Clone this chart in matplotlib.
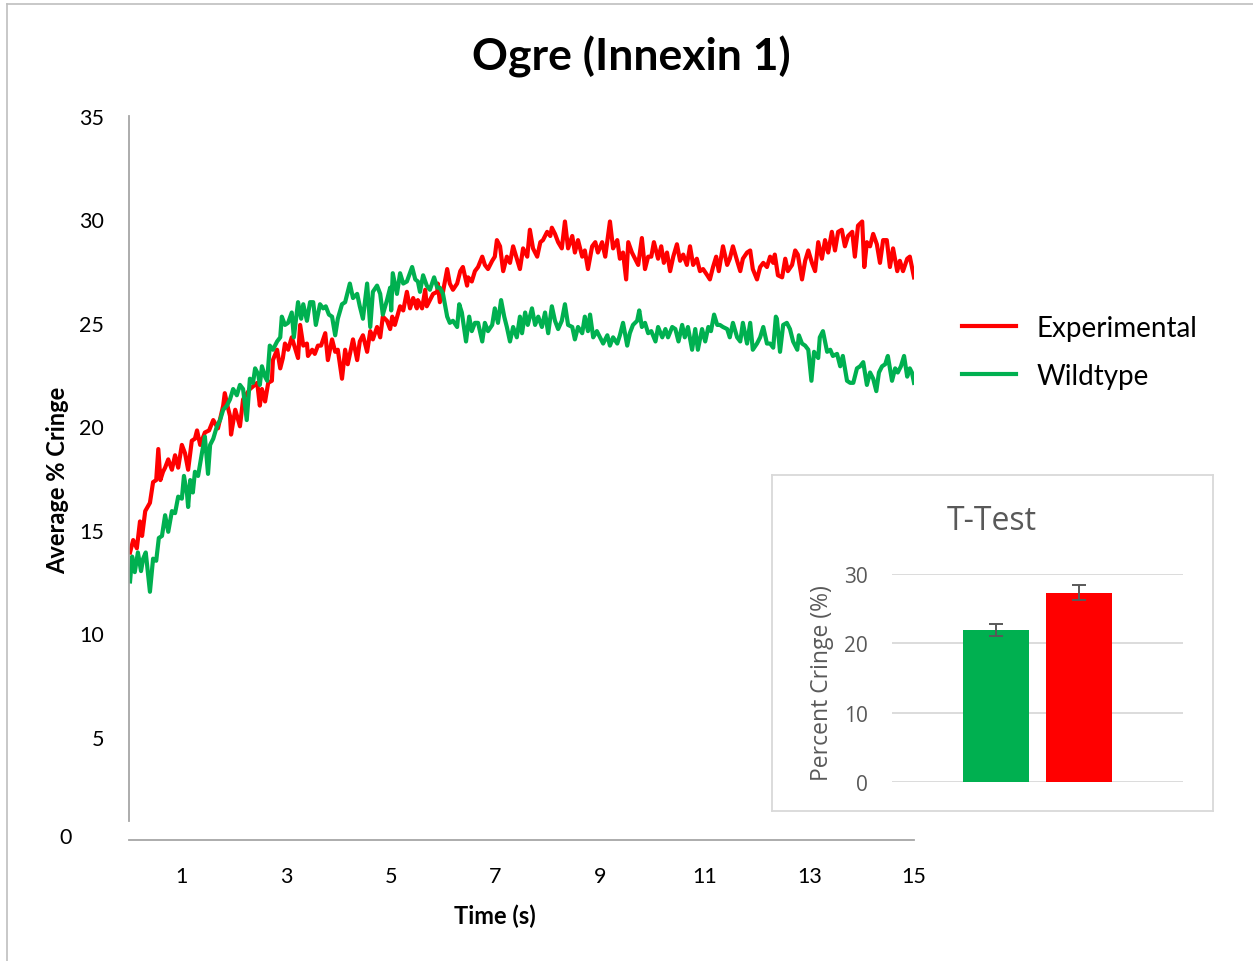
import matplotlib
matplotlib.use("Agg")
import matplotlib.pyplot as plt
from matplotlib.lines import Line2D

# ---------------- data ----------------
t_exp = [0.02,0.08,0.15,0.21,0.25,0.31,0.40,0.46,0.52,0.56,0.60,0.65,0.69,0.75,0.82,0.88,0.94,1.01,1.07,1.13,
         1.20,1.26,1.30,1.36,1.45,1.53,1.61,1.70,1.80,1.83,1.89,1.93,1.95,2.03,2.12,2.18,2.31,2.45,2.50,
         2.54,2.60,2.66,2.73,2.75,2.83,2.89,2.94,2.98,3.04,3.11,3.17,3.23,3.27,3.33,3.40,3.42,3.50,3.55,3.61,
         3.67,3.75,3.80,3.88,3.94,3.99,4.07,4.13,4.18,4.28,4.36,4.41,4.47,4.55,4.61,4.66,4.74,4.80,4.85,4.93,4.99,
         5.03,5.08,5.18,5.24,5.31,5.37,5.43,5.50,5.52,5.60,5.66,5.69,5.75,5.81,5.89,5.90,5.94,6.00,6.08,6.13,
         6.19,6.27,6.33,6.38,6.46,6.48,6.55,6.61,6.67,6.75,6.80,6.86,6.94,6.99,7.03,7.09,7.15,7.22,7.28,7.34,7.41,7.47,
         7.53,7.61,7.66,7.72,7.80,7.86,7.91,7.99,8.05,8.08,8.14,8.20,8.27,8.33,8.39,8.47,8.52,8.58,8.66,8.71,
         8.77,8.85,8.91,8.96,9.04,9.10,9.19,9.25,9.33,9.38,9.44,9.50,9.54,9.61,9.67,9.73,9.80,9.86,9.92,
         9.98,10.03,10.11,10.17,10.22,10.28,10.34,10.40,10.47,10.53,10.59,10.66,10.72,10.78,10.85,10.91,10.97,11.05,11.10,11.16,
         11.22,11.27,11.35,11.43,11.48,11.54,11.62,11.68,11.73,11.81,11.87,11.92,12.00,12.06,12.12,12.19,12.25,12.31,12.34,12.40,
         12.48,12.54,12.59,12.67,12.73,12.78,12.86,12.92,12.98,13.05,13.11,13.17,13.24,13.30,13.36,13.43,13.49,13.55,13.62,13.68,
         13.74,13.82,13.87,13.93,14.01,14.05,14.10,14.16,14.22,14.29,14.35,14.41,14.48,14.54,14.60,14.68,14.73,14.79,14.87,14.92,15.00]
v_exp = [13.9,14.5,14.1,15.4,14.7,15.9,16.3,17.3,17.4,18.9,17.4,17.8,18.0,18.4,17.9,18.6,18.0,19.1,18.7,17.9,
         19.3,19.4,19.8,19.1,19.7,19.8,20.3,19.9,21.0,21.6,20.9,20.5,19.6,20.8,20.0,21.3,21.8,22.1,21.0,
         21.8,21.2,22.1,22.2,23.2,23.7,22.8,23.3,24.0,23.7,24.3,23.8,23.3,24.9,23.9,24.0,23.4,23.7,23.5,23.9,
         23.9,24.5,23.2,24.2,23.6,23.7,22.3,23.7,23.0,24.2,23.2,24.1,24.4,23.6,24.6,24.2,24.8,24.3,25.3,25.1,24.7,
         25.3,24.9,25.8,25.6,26.5,25.7,26.2,25.7,26.1,25.7,26.6,25.8,26.1,26.4,26.5,26.9,26.0,26.5,27.6,26.9,
         26.6,26.9,27.5,27.7,26.8,27.2,27.0,27.5,27.7,28.2,27.8,27.6,28.0,28.2,29.0,28.7,27.5,28.2,27.9,28.7,28.1,27.6,
         28.6,28.2,29.5,28.6,28.2,28.9,29.0,29.4,29.2,29.6,29.3,28.9,28.6,29.9,28.6,29.2,28.4,29.0,28.2,28.5,
         27.6,28.7,28.9,28.4,28.9,28.2,29.9,28.6,29.0,28.1,28.4,27.1,28.9,28.4,28.1,27.8,29.1,27.6,28.2,
         28.2,28.9,28.1,28.7,27.9,28.4,27.5,28.2,28.8,28.0,28.3,27.8,28.7,27.8,28.1,27.5,27.6,27.3,27.1,27.7,
         28.2,27.5,28.7,27.8,28.1,28.7,28.0,27.5,28.1,28.4,28.5,27.6,27.1,27.7,27.9,27.7,28.2,27.9,28.3,27.3,
         27.2,28.1,27.5,27.8,28.5,28.3,27.1,28.0,28.5,27.9,27.5,28.9,28.1,29.0,28.4,29.4,28.5,29.4,29.5,28.7,
         29.2,29.4,28.2,29.7,29.9,27.7,28.9,28.7,29.3,28.8,27.9,29.0,29.0,27.7,28.6,27.5,28.0,27.5,28.1,28.2,27.2]

t_wt = [0.02,0.06,0.11,0.17,0.23,0.27,0.32,0.36,0.40,0.46,0.52,0.57,0.63,0.69,0.75,0.82,0.88,0.94,1.01,1.05,
        1.11,1.13,1.17,1.22,1.26,1.32,1.40,1.45,1.51,1.55,1.61,1.68,1.74,1.80,1.87,1.93,1.99,2.06,2.12,2.18,
        2.25,2.31,2.37,
        2.41,2.47,2.50,2.54,2.60,2.64,2.69,2.75,2.83,2.89,2.92,2.98,3.04,3.11,3.15,3.23,3.29,3.33,3.40,3.46,
        3.52,3.57,3.65,3.71,3.76,3.82,3.88,3.94,3.99,4.07,4.13,4.18,4.22,4.28,4.36,4.41,4.47,4.55,4.61,4.66,
        4.74,4.80,4.85,4.93,4.99,
        5.01,5.04,5.12,5.18,5.24,5.31,5.41,5.47,5.52,5.56,5.62,5.69,5.75,5.83,5.89,5.94,6.00,6.08,6.13,6.19,
        6.27,6.31,6.36,6.44,6.50,6.55,6.61,6.67,6.75,6.80,6.86,6.94,6.99,7.05,7.11,7.17,7.22,7.28,7.34,7.41,7.47,
        7.51,7.57,7.62,7.70,7.76,7.82,7.89,7.95,8.01,8.08,8.14,8.20,8.27,8.33,8.39,8.47,8.52,8.58,8.66,8.71,
        8.77,8.81,8.87,8.94,9.00,9.06,9.14,9.19,9.25,9.33,9.38,9.44,9.52,9.57,9.63,9.71,9.75,9.80,9.86,9.92,
        9.98,10.06,10.11,10.19,10.25,10.30,10.38,10.44,10.50,10.57,10.62,10.68,10.76,10.82,10.87,10.95,11.01,11.07,11.12,11.18,
        11.24,11.29,11.35,11.43,11.48,11.54,11.62,11.68,11.73,11.81,11.87,11.92,12.00,12.06,12.12,12.19,12.25,12.31,12.36,
        12.38,12.44,12.50,12.57,12.63,12.69,12.77,12.80,12.86,12.92,12.98,13.04,13.09,13.17,13.20,13.26,13.34,13.40,13.45,13.53,
        13.59,13.64,13.72,13.78,13.84,13.91,13.97,14.03,14.10,14.16,14.22,14.28,14.33,14.39,14.45,14.50,14.58,14.64,14.69,14.75,
        14.81,14.87,14.92,14.96,15.00]
v_wt = [12.5,13.7,12.95,13.9,13.0,13.6,13.9,12.95,12.0,13.6,13.5,14.6,14.7,15.7,14.9,15.9,15.8,16.6,16.5,17.6,
        16.7,16.1,17.4,16.8,17.8,17.6,18.8,19.5,17.7,19.1,19.4,20.0,20.3,20.8,21.0,21.3,21.8,21.5,22.0,21.8,
        20.3,22.3,22.1,
        22.8,22.5,22.0,22.9,22.4,22.2,23.9,23.7,24.1,24.3,25.3,24.9,25.0,25.5,24.3,26.0,25.2,25.9,25.1,26.0,
        26.0,24.9,25.9,25.7,25.8,25.4,25.3,24.4,25.2,25.9,26.0,26.5,26.9,26.2,26.4,25.8,25.2,26.9,24.8,26.5,
        26.8,26.4,25.4,26.1,26.7,
        25.6,27.4,26.4,27.4,26.9,27.0,27.7,27.1,27.0,26.5,27.3,26.8,26.6,27.2,26.7,26.7,26.4,25.3,25.0,25.1,
        24.8,25.9,25.5,24.1,25.3,24.6,25.0,25.0,24.1,25.0,24.6,24.9,25.7,25.0,26.1,25.3,24.8,24.1,24.8,24.3,25.3,
        24.5,25.5,24.9,25.7,24.9,25.3,24.8,25.5,24.5,25.8,25.1,24.7,25.1,25.9,24.9,24.8,24.2,24.8,24.5,25.3,
        24.6,25.4,24.3,24.6,24.3,24.0,24.4,23.9,24.3,24.0,24.4,25.0,23.9,24.5,24.9,25.1,25.6,24.8,25.0,24.5,
        24.6,24.1,24.8,24.3,24.7,24.3,24.8,24.7,24.1,24.9,24.3,24.8,23.7,24.7,23.7,24.7,24.1,24.8,24.6,25.4,
        24.9,24.9,24.8,24.7,24.3,25.0,24.3,24.1,25.0,24.0,25.0,23.7,24.0,24.3,24.8,24.0,24.0,23.8,25.3,
        25.2,23.6,24.9,25.0,24.7,24.1,23.7,24.4,24.0,23.9,23.7,22.2,23.6,23.3,24.3,24.6,23.6,23.7,23.4,23.5,
        22.9,23.4,22.2,22.1,22.1,22.8,22.9,23.1,22.0,22.6,22.3,21.7,22.6,22.9,23.0,23.4,22.2,22.8,22.6,22.9,
        23.4,22.4,22.8,22.6,22.1]

series_names = ["Experimental", "Wildtype"]
x_ticks = [1, 3, 5, 7, 9, 11, 13, 15]
y_ticks = [5, 10, 15, 20, 25, 30, 35]

bar_groups = ["Wildtype", "Experimental"]
bar_means = [21.9, 27.3]
bar_err = [0.9, 1.05]
inset_ticks = [0, 10, 20, 30]

RED = "#ff0000"
GREEN = "#00b050"
GRAY_TXT = "#595959"

# ---------------- figure ----------------
W, H = 1253, 962
fig = plt.figure(figsize=(W / 100, H / 100), dpi=100)
fig.patch.set_facecolor("white")


def fx(px):
    return px / W


def fy(py):
    return 1 - py / H


MAIN_FONT = ["Lato", "DejaVu Sans"]
INSET_FONT = ["Open Sans", "DejaVu Sans"]

# figure frame (top and left edges)
fig.add_artist(Line2D([fx(7), fx(7)], [0, fy(5)], color="#bfbfbf", lw=1.2))
fig.add_artist(Line2D([fx(7), 1], [fy(5), fy(5)], color="#bfbfbf", lw=1.2))

ax = fig.add_axes([fx(129), fy(841), fx(914) - fx(129), fy(117) - fy(841)])
ax.plot(t_exp, v_exp, color=RED, lw=3.0, label=series_names[0], solid_joinstyle="round")
ax.plot(t_wt, v_wt, color=GREEN, lw=3.0, label=series_names[1], solid_joinstyle="round")
ax.set_xlim(0, 15)
ax.set_ylim(0, 35)
ax.set_xticks(x_ticks)
ax.set_xticklabels([str(v) for v in x_ticks], fontfamily=MAIN_FONT)
ax.set_yticks(y_ticks)
ax.set_yticklabels([str(v) for v in y_ticks], fontfamily=MAIN_FONT)
ax.tick_params(axis="both", length=0, labelsize=15.5, colors="black")
ax.tick_params(axis="x", pad=19)
ax.tick_params(axis="y", pad=18)
for s in ["top", "right"]:
    ax.spines[s].set_visible(False)
for s in ["left", "bottom"]:
    ax.spines[s].set_color("#a6a6a6")
    ax.spines[s].set_linewidth(1.3)
ax.spines["left"].set_bounds(0.9, 35)
ax.patch.set_alpha(0)

# lone "0" label placed like the reference
fig.text(fx(66), fy(838), "0", ha="center", va="center", fontsize=15.5, family=MAIN_FONT)

fig.text(fx(631), fy(57), "Ogre (Innexin 1)", ha="center", va="center",
         fontsize=32, fontweight="bold", family=MAIN_FONT)
fig.text(fx(495), fy(916), "Time (s)", ha="center", va="center",
         fontsize=17, fontweight="bold", family=MAIN_FONT)
fig.text(fx(58), fy(480), "Average % Cringe", ha="center", va="center", rotation=90,
         fontsize=17, fontweight="bold", family=MAIN_FONT)

leg = ax.legend(loc="upper left", bbox_to_anchor=(fx(962), fy(316)), bbox_transform=fig.transFigure,
                frameon=False, borderpad=0, borderaxespad=0, handlelength=1.95, handletextpad=0.72,
                labelspacing=0.78, prop={"family": MAIN_FONT, "size": 20})

# ---------------- inset ----------------
box = fig.add_axes([fx(771.7), fy(811.7), fx(1213.3) - fx(771.7), fy(476) - fy(811.7)])
box.set_xticks([])
box.set_yticks([])
for s in box.spines.values():
    s.set_color("#d9d9d9")
    s.set_linewidth(1.3)
box.set_facecolor("white")

iax = fig.add_axes([fx(891.7), fy(783), fx(1183.3) - fx(891.7), fy(575) - fy(783)])
iax.set_xlim(-1.262, 2.26)
iax.set_ylim(0, 30)
iax.set_yticks(inset_ticks)
iax.set_yticklabels([str(v) for v in inset_ticks], fontfamily=INSET_FONT)
iax.tick_params(axis="y", length=0, labelsize=15, colors=GRAY_TXT, pad=17)
iax.set_xticks([])
iax.grid(axis="y", color="#d9d9d9", lw=1.3)
iax.set_axisbelow(True)
for s in iax.spines.values():
    s.set_visible(False)
iax.patch.set_alpha(0)
iax.bar([0, 1], bar_means, width=0.8, color=[GREEN, RED], zorder=2)
iax.errorbar([0, 1], bar_means, yerr=bar_err, fmt="none", ecolor=GRAY_TXT, elinewidth=1.4,
             capsize=5, capthick=1.4, zorder=3)

fig.text(fx(991.7), fy(521.7), "T-Test", ha="center", va="center", fontsize=23,
         color=GRAY_TXT, family=INSET_FONT)
fig.text(fx(821.7), fy(683), "Percent Cringe (%)", ha="center", va="center", rotation=90,
         fontsize=16.5, color=GRAY_TXT, family=INSET_FONT)

fig.savefig("out.png", dpi=100)
